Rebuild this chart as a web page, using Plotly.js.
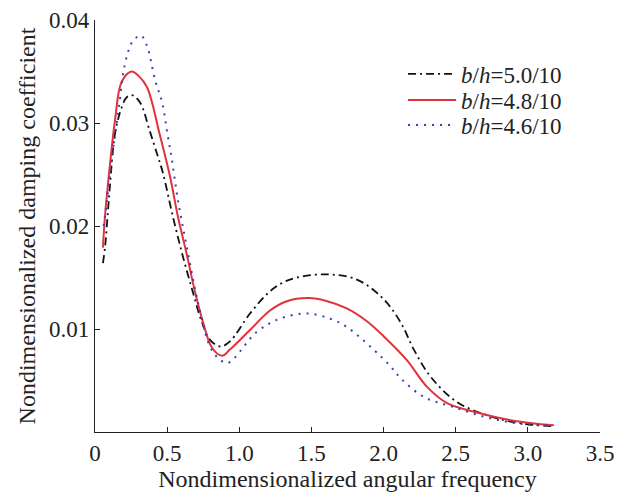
<!DOCTYPE html>
<html>
<head>
<meta charset="utf-8">
<script src="https://cdn.plot.ly/plotly-3.0.1.min.js"></script>
<style>
  html, body { margin: 0; padding: 0; background: #fff; }
  #chart { width: 628px; height: 501px; }
</style>
</head>
<body>
<div id="chart"></div>
<script>
// values
const freq50 = [0.055, 0.07, 0.09, 0.104, 0.139, 0.187, 0.22, 0.257, 0.312, 0.38, 0.437, 0.47, 0.54, 0.61, 0.68, 0.74, 0.80, 0.87, 0.935, 1.074, 1.20, 1.30, 1.40, 1.61, 1.815, 2.0, 2.12, 2.21, 2.33, 2.51, 2.745, 2.97, 3.18];
const damp50 = [0.0164, 0.0180, 0.0215, 0.0240, 0.0290, 0.0316, 0.0325, 0.0327, 0.0320, 0.0292, 0.0267, 0.0252, 0.0209, 0.0170, 0.0135, 0.0107, 0.0089, 0.0083, 0.0088, 0.0115, 0.0135, 0.0145, 0.0150, 0.0153, 0.0148, 0.0129, 0.0106, 0.0080, 0.0053, 0.0029, 0.0015, 0.0008, 0.00055];

const freq48 = [0.055, 0.069, 0.104, 0.139, 0.185, 0.254, 0.30, 0.36, 0.45, 0.52, 0.575, 0.64, 0.69, 0.75, 0.81, 0.88, 0.935, 1.074, 1.213, 1.33, 1.48, 1.61, 1.745, 1.88, 2.0, 2.16, 2.30, 2.44, 2.675, 2.90, 3.18];
const damp48 = [0.0179, 0.0209, 0.0260, 0.0303, 0.0340, 0.0350, 0.0346, 0.0335, 0.0288, 0.0248, 0.0209, 0.0170, 0.0138, 0.0106, 0.0082, 0.0074, 0.0080, 0.0099, 0.0118, 0.0127, 0.0130, 0.0127, 0.0120, 0.0108, 0.0093, 0.0070, 0.0044, 0.0028, 0.0018, 0.0011, 0.00065];

const freq46 = [0.06, 0.083, 0.125, 0.173, 0.196, 0.236, 0.265, 0.317, 0.36, 0.416, 0.465, 0.505, 0.53, 0.575, 0.64, 0.715, 0.80, 0.86, 0.92, 1.12, 1.28, 1.47, 1.63, 1.745, 1.93, 2.04, 2.12, 2.28, 2.49, 2.72, 2.95, 3.17];
const damp46 = [0.0200, 0.0225, 0.0274, 0.0323, 0.0349, 0.0372, 0.0380, 0.0385, 0.0375, 0.0342, 0.0320, 0.0287, 0.0267, 0.0225, 0.0177, 0.0125, 0.0082, 0.0071, 0.0067, 0.0097, 0.0110, 0.0115, 0.0110, 0.0102, 0.0080, 0.0065, 0.0052, 0.0034, 0.0024, 0.0014, 0.0008, 0.00065];

const seriesNames = ['<i>b</i>/<i>h</i>=5.0/10', '<i>b</i>/<i>h</i>=4.8/10', '<i>b</i>/<i>h</i>=4.6/10'];

const xTicks = [0, 0.5, 1.0, 1.5, 2.0, 2.5, 3.0, 3.5];
const xTickText = ['0', '0.5', '1.0', '1.5', '2.0', '2.5', '3.0', '3.5'];
const yTicks = [0.01, 0.02, 0.03, 0.04];
const yTickText = ['0.01', '0.02', '0.03', '0.04'];

const serif = '"Liberation Serif", "DejaVu Serif", serif';

const traces = [
  {
    x: freq50, y: damp50, name: seriesNames[0], legend: 'legend',
    type: 'scatter', mode: 'lines',
    line: { color: '#111111', width: 1.8, dash: '8px,4px,2px,4px', shape: 'spline', smoothing: 1 },
  },
  {
    x: freq48, y: damp48, name: seriesNames[1], legend: 'legend2',
    type: 'scatter', mode: 'lines',
    line: { color: '#e2323b', width: 2, shape: 'spline', smoothing: 1 },
  },
  {
    x: freq46, y: damp46, name: seriesNames[2], legend: 'legend3',
    type: 'scatter', mode: 'lines',
    line: { color: '#3b40b4', width: 2, dash: '2px,6px', shape: 'spline', smoothing: 1 },
  },
];

// one legend per row so the rows can sit as close as in the reference
function legendRow(y) {
  return {
    x: 0.61, y: y, xanchor: 'left', yanchor: 'middle',
    bgcolor: 'rgba(0,0,0,0)',
    itemwidth: 48,
    font: { family: serif, size: 23, color: '#222222' },
  };
}

const layout = {
  width: 628,
  height: 501,
  margin: { l: 95, r: 28, t: 20, b: 69 },
  paper_bgcolor: '#ffffff',
  plot_bgcolor: '#ffffff',
  font: { family: serif, size: 23, color: '#222222' },
  showlegend: true,
  legend: legendRow(0.869),
  legend2: legendRow(0.806),
  legend3: legendRow(0.745),
  xaxis: {
    range: [0, 3.5],
    tickvals: xTicks,
    ticktext: xTickText,
    ticks: 'inside',
    ticklen: 5,
    tickcolor: '#222222',
    showline: true,
    linecolor: '#222222',
    linewidth: 1.2,
    showgrid: false,
    zeroline: false,
    title: { text: 'Nondimensionalized angular frequency', font: { family: serif, size: 24 }, standoff: 0 },
  },
  yaxis: {
    range: [0, 0.04],
    tickvals: yTicks,
    ticktext: yTickText,
    ticks: 'inside',
    ticklen: 5,
    tickcolor: '#222222',
    showline: true,
    linecolor: '#222222',
    linewidth: 1.2,
    showgrid: false,
    zeroline: false,
    title: { text: 'Nondimensionalized damping coefficient', font: { family: serif, size: 24 }, standoff: 6 },
  },
};

Plotly.newPlot('chart', traces, layout, { staticPlot: true, displayModeBar: false });
</script>
</body>
</html>
